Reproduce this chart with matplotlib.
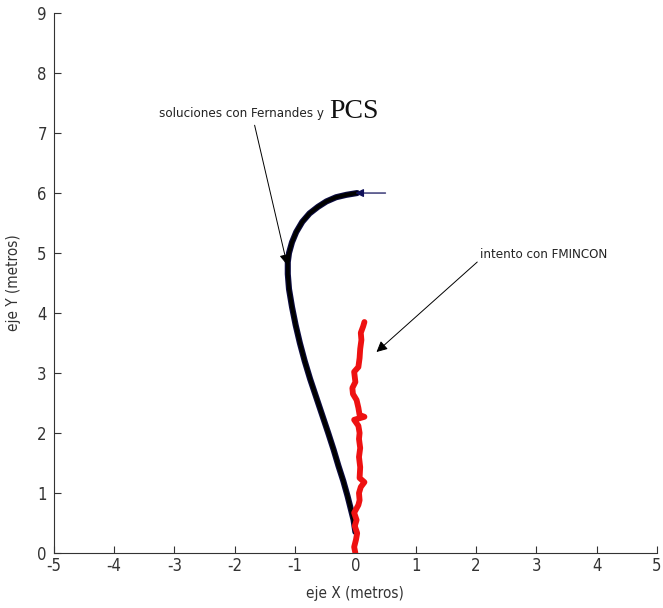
import matplotlib
matplotlib.use('Agg')
import matplotlib.pyplot as plt
from matplotlib import font_manager

# trayectoria "soluciones con Fernandes y PCS"
sol_x = [0.0, -0.03, -0.08, -0.13, -0.2, -0.28, -0.36, -0.45, -0.55, -0.65,
         -0.75, -0.84, -0.92, -0.99, -1.05, -1.1, -1.12, -1.12, -1.1, -1.05,
         -0.98, -0.88, -0.76, -0.62, -0.48, -0.32, -0.15, 0.03]
sol_y = [0.35, 0.55, 0.75, 0.95, 1.2, 1.45, 1.72, 2.0, 2.3, 2.6,
         2.9, 3.2, 3.5, 3.8, 4.1, 4.4, 4.65, 4.85, 5.0, 5.18,
         5.35, 5.52, 5.66, 5.77, 5.86, 5.93, 5.97, 6.0]

# trayectoria "intento con FMINCON"
fmin_x = [0.0, -0.02, 0.01, 0.03, -0.01, 0.02, -0.02, 0.05, 0.07, 0.06,
          0.09, 0.15, 0.07, 0.08, 0.06, 0.08, 0.06, 0.07, 0.05, -0.02,
          0.15, 0.07, 0.05, 0.02, -0.04, -0.05, 0.0, -0.02, 0.05, 0.07,
          0.08, 0.1, 0.09, 0.13, 0.15]
fmin_y = [0.0, 0.1, 0.22, 0.33, 0.45, 0.55, 0.67, 0.8, 0.88, 1.0,
          1.1, 1.18, 1.25, 1.43, 1.6, 1.75, 1.9, 2.0, 2.12, 2.22,
          2.27, 2.3, 2.42, 2.55, 2.65, 2.75, 2.85, 3.02, 3.1, 3.25,
          3.4, 3.55, 3.67, 3.78, 3.85]

# rumbo inicial
head_x = [0.5, 0.0]
head_y = [6.0, 6.0]

xticks = [-5, -4, -3, -2, -1, 0, 1, 2, 3, 4, 5]
yticks = [0, 1, 2, 3, 4, 5, 6, 7, 8, 9]

narrow = font_manager.FontProperties(family='DejaVu Sans', stretch='condensed', size=9.5)
labels_fp = font_manager.FontProperties(family='DejaVu Sans', stretch='condensed', size=11)
ticks_fp = font_manager.FontProperties(family='DejaVu Sans', stretch='condensed', size=12)

fig = plt.figure(figsize=(6.63, 6.08), dpi=100)
ax = fig.add_axes([0.081, 0.0905, 0.91, 0.888])

ax.plot(sol_x, sol_y, color='#0b0b40', lw=4.4, solid_capstyle='round',
        solid_joinstyle='round')
ax.plot(sol_x, sol_y, color='black', lw=2.8, solid_capstyle='round',
        solid_joinstyle='round')
ax.plot(fmin_x, fmin_y, color='#ee1111', lw=4.2, solid_capstyle='round',
        solid_joinstyle='round')

ax.annotate('', xy=(head_x[1], head_y[1]), xytext=(head_x[0], head_y[0]),
            arrowprops=dict(arrowstyle='-|>', color='#10105a', lw=0.9,
                            mutation_scale=12, shrinkA=0, shrinkB=0))

ax.annotate('', xy=(-1.13, 4.8), xytext=(-1.67, 7.13),
            arrowprops=dict(arrowstyle='-|>', color='black', lw=0.7,
                            mutation_scale=16, shrinkA=0, shrinkB=0))
t1 = ax.text(-3.25, 7.33, 'soluciones con Fernandes y', fontproperties=narrow,
             color='#222222', va='center', ha='left')
ax.annotate('PCS', xy=(1, 0.5), xycoords=t1, xytext=(3.5, 1.5),
            textcoords='offset points', va='center', ha='left',
            family=['Liberation Serif', 'DejaVu Serif'], fontsize=20,
            color='#111111')

ax.annotate('', xy=(0.35, 3.35), xytext=(2.02, 4.85),
            arrowprops=dict(arrowstyle='-|>', color='black', lw=0.7,
                            mutation_scale=16, shrinkA=0, shrinkB=0))
ax.text(2.06, 4.97, 'intento con FMINCON', fontproperties=narrow,
        color='#222222', va='center', ha='left')

ax.set_xlim(-5, 5)
ax.set_ylim(0, 9)
ax.set_xticks(xticks)
ax.set_yticks(yticks)
ax.set_xticklabels([str(v) for v in xticks], fontproperties=ticks_fp, color='#333333')
ax.set_yticklabels([str(v) for v in yticks], fontproperties=ticks_fp, color='#333333')
ax.tick_params(direction='in', length=5, width=0.8, color='#333333', pad=3)
ax.tick_params(axis='y', pad=5)
ax.spines['top'].set_visible(False)
ax.spines['right'].set_visible(False)
ax.spines['left'].set_color('#333333')
ax.spines['bottom'].set_color('#333333')

ax.set_xlabel('eje X (metros)', fontproperties=labels_fp, color='#333333', labelpad=8)
ax.set_ylabel('eje Y (metros)', fontproperties=labels_fp, color='#333333', labelpad=12)

fig.savefig('out.png', dpi=100)
